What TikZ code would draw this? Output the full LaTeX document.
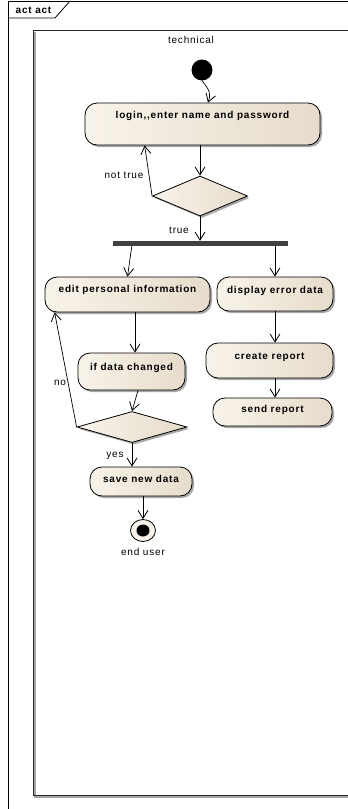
\documentclass[tikz,border=0pt]{standalone}
\usepackage{fontspec}
\setmainfont[LetterSpace=8]{Liberation Sans}
\usetikzlibrary{arrows.meta,shapes.geometric,shadows,calc}
\definecolor{cA}{HTML}{F8F3EA}
\definecolor{cB}{HTML}{E6DCCB}
\definecolor{shad}{HTML}{A8A8A8}
\definecolor{barc}{HTML}{404040}
\begin{document}
\begin{tikzpicture}[x=1pt,y=-1pt,
  actbox/.style={draw=black, line width=0.8pt, rounded corners=12pt,
    left color=cA, right color=cB,
    drop shadow={shadow xshift=2pt, shadow yshift=-2pt, fill=shad, opacity=1},
    inner sep=0pt, font=\fontsize{10}{11}\selectfont\bfseries, text height=7.5pt},
  decision/.style={diamond, draw=black, line width=0.8pt, left color=cA, right color=cB,
    drop shadow={shadow xshift=2pt, shadow yshift=-2pt, fill=shad, opacity=1},
    inner sep=0pt},
  arr/.style={line width=0.7pt, -{Straight Barb[length=8pt,width=10pt,line width=0.8pt]}},
  lbl/.style={font=\fontsize{10}{11}\selectfont, inner sep=0pt},
]
\useasboundingbox (0,0) rectangle (348,809);
\fill[white] (0,0) rectangle (348,809);

% outer frame
\draw[black, line width=0.8pt] (8,809) -- (8,1) -- (348,1);
\draw[black, line width=0.8pt] (8,18) -- (55,18) -- (70,1);
\node[lbl, font=\fontsize{10}{11}\selectfont\bfseries] (title) at (33.5,10) {act act};

% inner frame (partition)
\draw[gray!70, line width=1.2pt] (35,31.5) -- (35,797) -- (348,797);
\draw[black!85, line width=1pt] (348,30) -- (33.3,30) -- (33.3,795.3) -- (348,795.3);
\node[lbl] (part) at (191,39.5) {technical};

% nodes
\node[circle, fill=black, minimum size=21pt, inner sep=0pt] (init) at (202,70) {};
\node[actbox, minimum width=235pt, minimum height=42pt, text depth=19.5pt] (login) at (202.5,124) {login{,}{,}enter name and password};
\node[decision, minimum width=95pt, minimum height=40pt] (d1) at (200,196) {};
\node[fill=barc, minimum width=175pt, minimum height=5pt, inner sep=0pt] (bar) at (200.5,243.5) {};
\node[actbox, minimum width=165pt, minimum height=35pt, text depth=12.5pt] (edit) at (127.5,294.5) {edit personal information};
\node[actbox, minimum width=116pt, minimum height=34pt, text depth=9.5pt] (display) at (275,294) {display error data};
\node[actbox, minimum width=107pt, minimum height=37pt, text depth=10.5pt] (ifdata) at (131.5,371.5) {if data changed};
\node[actbox, minimum width=127pt, minimum height=35pt, text depth=10.5pt] (create) at (269.5,360.5) {create report};
\node[actbox, minimum width=119pt, minimum height=28pt, text depth=7.5pt] (send) at (272.5,412) {send report};
\node[decision, minimum width=110pt, minimum height=31pt] (d2) at (132,427) {};
\node[actbox, minimum width=102pt, minimum height=29pt, text depth=6.5pt] (save) at (141,481.5) {save new data};
\node[ellipse, draw=black, line width=0.8pt, fill=cA, minimum width=25pt, minimum height=22pt, inner sep=0pt,
  path picture={\fill[black] (path picture bounding box.center) ellipse [x radius=6.5pt, y radius=6pt];}] (end) at (143,530.5) {};
\node[lbl] (endlbl) at (143,552) {end user};

% labels
\node[lbl] (lnt) at (124,175) {not true};
\node[lbl] (ltrue) at (179,230) {true};
\node[lbl] (lno) at (60,383) {no};
\node[lbl] (lyes) at (115,456) {yes};

% connectors
\draw[arr] (init.south) .. controls +(8,10) and +(3,-9) .. ([xshift=5.5pt]login.north);
\draw[arr] (d1.north |- login.south) -- (d1.north);
\draw[arr] (d1.west) -- ($(login.south west)+(60,0)$);
\draw[arr] (d1.south) -- (d1.south |- bar.north);
\draw[arr] ($(bar.south west)+(19,0)$) -- (edit.north);
\draw[arr] (display.north |- bar.south) -- (display.north);
\draw[arr] ([xshift=7.5pt]edit.south) -- ([xshift=7.5pt]edit.south |- ifdata.north);
\draw[arr] (display.south) -- (display.south |- create.north);
\draw[arr] (display.south |- create.south) -- (display.south |- send.north);
\draw[arr] ([xshift=6.5pt]ifdata.south) -- (d2.north);
\draw[arr] (d2.west) -- ($(edit.south west)+(10,0)$);
\draw[arr] (d2.south) -- (d2.south |- save.north);
\draw[arr] ([xshift=2pt]save.south) -- (end.north);
\end{tikzpicture}
\end{document}
